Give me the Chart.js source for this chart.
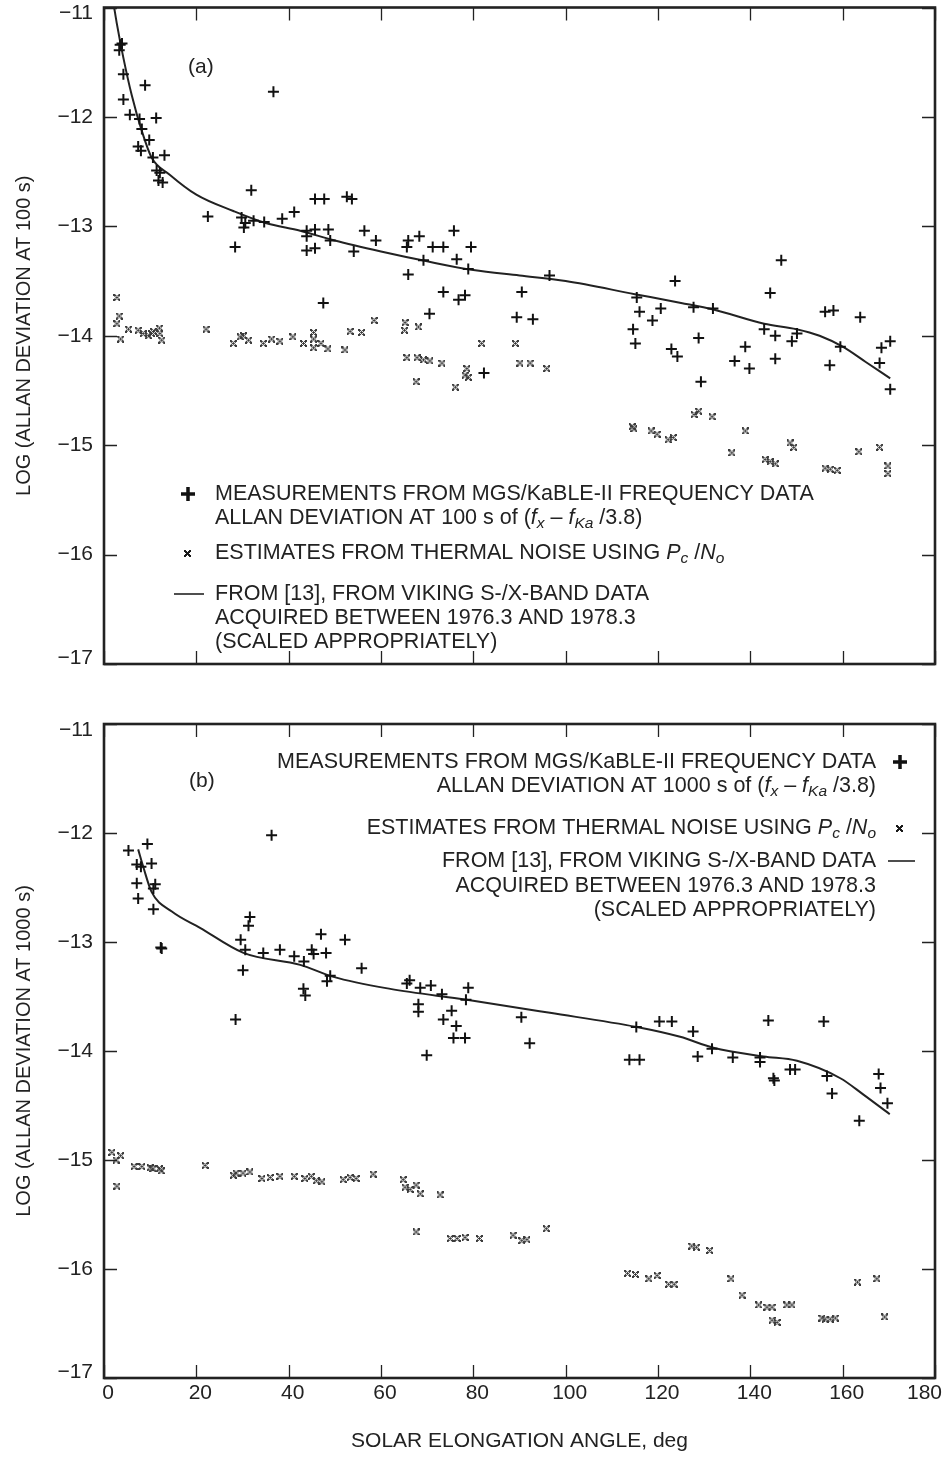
<!DOCTYPE html>
<html>
<head>
<meta charset="utf-8">
<script src="https://cdn.jsdelivr.net/npm/chart.js@4/dist/chart.umd.min.js"></script>
<style>
  html, body { margin: 0; padding: 0; background: #fff; }
  #wrap { position: relative; width: 943px; height: 1460px; }
  .panel { position: absolute; left: 0; width: 943px; }
  #panelA { top: 0; height: 700px; }
  #panelB { top: 700px; height: 760px; }
</style>
</head>
<body>
<div id="wrap">
  <div class="panel" id="panelA"><canvas id="chartA" width="943" height="700"></canvas></div>
  <div class="panel" id="panelB"><canvas id="chartB" width="943" height="760"></canvas></div>
</div>
<script>
// axis ticks (solar elongation angle, deg / log Allan deviation)
const angleTicks = [0, 20, 40, 60, 80, 100, 120, 140, 160, 180];
const logTicks = [-11, -12, -13, -14, -15, -16, -17];

// (a) 100 s: MGS/KaBLE-II measurements [deg, log]
const measA = [
  [3.5,-11.34],[3.3,-11.39],[3.9,-11.33],[4.2,-11.61],[8.9,-11.71],[4.2,-11.84],[5.6,-11.98],
  [7.7,-12.02],[11.3,-12.01],[8.2,-12.11],[9.8,-12.21],[7.4,-12.27],[8.0,-12.31],[10.6,-12.37],
  [13.1,-12.35],[11.4,-12.49],[12.1,-12.51],[11.8,-12.58],[12.7,-12.60],[36.7,-11.77],[31.9,-12.67],
  [22.5,-12.91],[28.4,-13.19],[29.8,-12.92],[30.6,-12.97],[30.3,-13.01],[32.4,-12.95],[34.7,-12.96],
  [38.6,-12.93],[41.2,-12.87],[45.7,-12.75],[47.7,-12.75],[52.6,-12.73],[53.7,-12.75],[43.9,-13.04],
  [45.7,-13.03],[43.9,-13.09],[43.9,-13.22],[45.7,-13.20],[48.6,-13.03],[49.0,-13.13],[54.1,-13.23],
  [56.4,-13.04],[58.9,-13.13],[47.5,-13.70],[65.9,-13.13],[65.6,-13.19],[68.3,-13.09],[71.2,-13.19],
  [73.5,-13.19],[75.8,-13.04],[79.5,-13.19],[69.2,-13.31],[76.4,-13.30],[78.9,-13.39],[65.9,-13.44],
  [73.5,-13.60],[78.2,-13.63],[76.8,-13.67],[70.5,-13.80],[90.5,-13.60],[89.4,-13.83],[92.9,-13.85],
  [96.5,-13.45],[82.3,-14.34],[115.4,-13.65],[116.0,-13.78],[120.6,-13.75],[118.8,-13.86],[114.6,-13.94],
  [115.1,-14.07],[123.7,-13.50],[122.9,-14.12],[124.2,-14.19],[146.7,-13.31],[144.3,-13.61],[127.7,-13.74],
  [131.9,-13.75],[128.8,-14.02],[143.0,-13.94],[145.4,-14.00],[149.0,-14.05],[150.1,-13.98],[138.9,-14.10],
  [136.6,-14.23],[139.8,-14.30],[145.4,-14.21],[129.3,-14.42],[156.2,-13.78],[158.0,-13.77],[163.8,-13.83],
  [159.5,-14.10],[157.2,-14.27],[168.4,-14.11],[170.3,-14.05],[168.0,-14.25],[170.3,-14.49]
];

// (a) 100 s: thermal noise estimates from Pc/No
const thermalA = [
  [2.8,-13.65],[3.3,-13.82],[2.8,-13.89],[3.6,-14.03],[5.3,-13.94],[7.4,-13.95],[8.5,-13.98],[9.6,-14.00],
  [10.3,-13.98],[10.7,-13.96],[12.0,-13.93],[12.1,-13.98],[12.5,-14.04],[22.1,-13.94],[28.0,-14.07],
  [29.5,-14.01],[30.2,-14.00],[31.3,-14.04],[34.5,-14.07],[36.3,-14.03],[38.1,-14.05],[40.9,-14.01],
  [43.2,-14.07],[45.4,-13.97],[45.4,-14.03],[45.4,-14.11],[47.0,-14.07],[48.5,-14.12],[52.2,-14.13],
  [53.3,-13.96],[55.8,-13.97],[58.5,-13.86],[65.2,-13.88],[65.1,-13.95],[68.1,-13.92],[65.6,-14.20],
  [67.8,-14.20],[69.2,-14.22],[70.6,-14.23],[73.2,-14.25],[67.6,-14.42],[81.8,-14.07],[89.1,-14.07],
  [78.6,-14.30],[78.2,-14.36],[78.9,-14.38],[76.1,-14.47],[90.1,-14.25],[92.3,-14.25],[95.9,-14.30],
  [114.4,-14.83],[114.8,-14.85],[118.5,-14.87],[119.8,-14.90],[122.2,-14.95],[123.3,-14.93],[127.8,-14.72],
  [128.8,-14.69],[131.7,-14.74],[138.9,-14.87],[136.0,-15.07],[143.2,-15.13],[145.4,-15.17],[144.3,-15.15],
  [148.6,-14.98],[149.4,-15.02],[156.2,-15.21],[157.3,-15.22],[158.8,-15.23],[163.5,-15.06],[168.0,-15.02],
  [169.8,-15.19],[169.8,-15.26]
];

// (a) Viking S-/X-band model, scaled
const vikingA = [
  [2.2,-11.00],[2.75,-11.14],[4.2,-11.46],[6.0,-11.80],[8.2,-12.13],[10.3,-12.37],[14.3,-12.53],
  [20.0,-12.71],[28.0,-12.86],[35.0,-12.97],[42.5,-13.04],[50.0,-13.13],[60.0,-13.23],[70.0,-13.32],
  [80.0,-13.40],[90.0,-13.45],[100.0,-13.50],[115.0,-13.62],[125.0,-13.70],[132.0,-13.76],[143.0,-13.89],
  [150.0,-13.94],[155.0,-14.00],[160.0,-14.10],[165.0,-14.24],[170.3,-14.39]
];

// (b) 1000 s: MGS/KaBLE-II measurements
const measB = [
  [5.3,-12.16],[9.4,-12.10],[7.1,-12.29],[8.0,-12.31],[10.3,-12.28],[7.1,-12.46],[11.1,-12.47],
  [10.7,-12.51],[7.4,-12.60],[10.7,-12.70],[12.3,-13.05],[12.5,-13.06],[36.3,-12.02],[31.6,-12.77],
  [31.3,-12.85],[29.6,-12.98],[30.6,-13.07],[30.1,-13.26],[28.5,-13.71],[34.5,-13.10],[38.1,-13.07],
  [41.2,-13.13],[43.3,-13.18],[45.0,-13.07],[45.4,-13.11],[48.1,-13.10],[47.0,-12.93],[52.2,-12.98],
  [49.0,-13.31],[48.3,-13.36],[43.2,-13.43],[43.6,-13.49],[55.8,-13.24],[65.6,-13.38],[66.2,-13.35],
  [68.5,-13.42],[70.8,-13.40],[73.2,-13.48],[78.9,-13.42],[78.4,-13.53],[68.1,-13.57],[68.1,-13.64],
  [75.3,-13.63],[73.5,-13.71],[76.3,-13.77],[75.7,-13.88],[78.2,-13.88],[69.9,-14.04],[90.4,-13.69],
  [92.2,-13.93],[115.3,-13.78],[120.3,-13.73],[123.0,-13.73],[113.8,-14.08],[116.0,-14.08],[127.6,-13.82],
  [128.6,-14.05],[131.7,-13.98],[136.2,-14.06],[142.1,-14.06],[142.1,-14.10],[143.9,-13.72],[145.0,-14.25],
  [145.2,-14.27],[148.6,-14.17],[149.7,-14.17],[155.9,-13.73],[156.6,-14.23],[157.7,-14.39],[163.6,-14.64],
  [167.8,-14.21],[168.2,-14.34],[169.7,-14.48]
];

// (b) 1000 s: thermal noise estimates
const thermalB = [
  [1.7,-14.93],[2.6,-15.00],[3.6,-14.96],[2.8,-15.24],[6.5,-15.06],[8.2,-15.06],[10.0,-15.07],[10.6,-15.08],
  [12.0,-15.08],[12.4,-15.10],[21.9,-15.05],[28.0,-15.14],[28.6,-15.12],[30.1,-15.12],[31.6,-15.11],
  [34.2,-15.17],[36.0,-15.16],[38.1,-15.15],[41.2,-15.15],[43.5,-15.17],[44.9,-15.15],[46.0,-15.19],
  [47.2,-15.20],[51.8,-15.18],[53.3,-15.16],[54.6,-15.17],[58.3,-15.13],[64.8,-15.18],[65.2,-15.25],
  [66.3,-15.27],[67.6,-15.23],[68.5,-15.31],[67.6,-15.66],[72.8,-15.32],[75.0,-15.72],[76.5,-15.72],
  [78.2,-15.71],[81.3,-15.72],[88.6,-15.69],[90.5,-15.74],[91.6,-15.73],[95.8,-15.63],[113.4,-16.04],
  [115.1,-16.05],[118.0,-16.09],[119.8,-16.06],[122.3,-16.14],[123.5,-16.14],[127.3,-15.79],[128.3,-15.80],
  [131.2,-15.83],[135.8,-16.09],[138.2,-16.24],[141.8,-16.33],[143.6,-16.35],[144.7,-16.35],[144.7,-16.47],
  [145.8,-16.49],[147.9,-16.33],[149.0,-16.33],[155.5,-16.45],[156.2,-16.46],[157.3,-16.46],[158.4,-16.45],
  [163.2,-16.12],[167.4,-16.09],[169.1,-16.44]
];

// (b) Viking model, scaled
const vikingB = [
  [7.4,-12.15],[8.5,-12.31],[10.3,-12.54],[14.7,-12.72],[20.8,-12.87],[30.2,-13.10],[42.5,-13.21],
  [49.7,-13.32],[62.0,-13.43],[78.6,-13.53],[96.6,-13.65],[115.4,-13.78],[124.8,-13.87],[132.0,-13.97],
  [142.9,-14.05],[150.1,-14.09],[159.5,-14.25],[164.5,-14.40],[170.2,-14.58]
];

const FONT = '"Liberation Sans", Arial, Helvetica, sans-serif';
const INK = '#222';
Chart.defaults.font.family = FONT;
Chart.defaults.color = INK;

// small blocky "x" sprites for the thermal-noise estimates
function sprite(rows, color) {
  const c = document.createElement('canvas');
  c.width = rows[0].length; c.height = rows.length;
  const g = c.getContext('2d');
  g.fillStyle = color;
  rows.forEach((r, y) => {
    for (let x = 0; x < r.length; x++) if (r[x] === '1') g.fillRect(x, y, 1, 1);
  });
  return c;
}
const dotX = sprite([
  '1100011',
  '1110111',
  '0101010',
  '0011100',
  '0101010',
  '1110111',
  '1100011'
], '#3c3c3c');
const keyX = sprite([
  '1100011',
  '1110111',
  '0111110',
  '0011100',
  '0111110',
  '1110111',
  '1100011'
], '#1a1a1a');

const toXY = arr => arr.map(p => ({ x: p[0], y: p[1] }));

// text with italic / subscript pieces
function drawRuns(ctx, runs, x, y, align) {
  const size = 21.5;
  let total = 0;
  const parts = runs.map(r => {
    if (typeof r === 'string') r = { t: r };
    const fs = r.sub ? 15.5 : size;
    const font = (r.it ? 'italic ' : '') + fs + 'px ' + FONT;
    ctx.font = font;
    const w = ctx.measureText(r.t).width;
    total += w;
    return { font, w, t: r.t, dy: r.sub ? 6 : 0 };
  });
  let cx = align === 'right' ? x - total : x;
  ctx.textAlign = 'left';
  ctx.textBaseline = 'middle';
  ctx.fillStyle = INK;
  parts.forEach(p => { ctx.font = p.font; ctx.fillText(p.t, cx, y + p.dy); cx += p.w; });
}

function bigPlus(ctx, x, y) {
  ctx.save();
  ctx.strokeStyle = '#111';
  ctx.lineWidth = 3.5;
  ctx.beginPath();
  ctx.moveTo(x - 7, y); ctx.lineTo(x + 7, y);
  ctx.moveTo(x, y - 7); ctx.lineTo(x, y + 7);
  ctx.stroke();
  ctx.restore();
}

function legendLines(seconds) {
  return {
    meas1: ['MEASUREMENTS FROM MGS/KaBLE-II FREQUENCY DATA'],
    meas2: ['ALLAN DEVIATION AT ' + seconds + ' s of (', { t: 'f', it: true }, { t: 'x', it: true, sub: true },
      ' \u2013 ', { t: 'f', it: true }, { t: 'Ka', it: true, sub: true }, ' /3.8)'],
    est: ['ESTIMATES FROM THERMAL NOISE USING ', { t: 'P', it: true }, { t: 'c', it: true, sub: true },
      ' /', { t: 'N', it: true }, { t: 'o', it: true, sub: true }],
    v1: ['FROM [13], FROM VIKING S-/X-BAND DATA'],
    v2: ['ACQUIRED BETWEEN 1976.3 AND 1978.3'],
    v3: ['(SCALED APPROPRIATELY)']
  };
}

// frame, inward tick marks, tick labels, panel tag and key
const framePlugin = {
  id: 'frame',
  afterDraw(chart, args, opts) {
    const { ctx, chartArea: a, scales } = chart;
    const W = chart.width;
    ctx.save();
    ctx.strokeStyle = INK;
    ctx.lineWidth = 1.3;
    ctx.beginPath();
    scales.x.ticks.forEach(t => {
      const px = Math.round(scales.x.getPixelForValue(t.value)) + 0.5;
      ctx.moveTo(px, a.bottom); ctx.lineTo(px, a.bottom - 13);
      ctx.moveTo(px, a.top); ctx.lineTo(px, a.top + 13);
    });
    scales.y.ticks.forEach(t => {
      const py = Math.round(scales.y.getPixelForValue(t.value)) + 0.5;
      ctx.moveTo(a.left, py); ctx.lineTo(a.left + 13, py);
      ctx.moveTo(a.right, py); ctx.lineTo(a.right - 13, py);
    });
    ctx.stroke();
    ctx.lineWidth = 2.6;
    ctx.strokeRect(a.left, a.top, a.right - a.left, a.bottom - a.top);

    // tick labels, end labels kept inside the panel
    ctx.fillStyle = INK;
    ctx.font = '21px ' + FONT;
    ctx.textAlign = 'right';
    ctx.textBaseline = 'middle';
    scales.y.ticks.forEach(t => {
      let py = scales.y.getPixelForValue(t.value);
      py = Math.min(Math.max(py, a.top + 6), a.bottom - 6);
      ctx.fillText('\u2212' + Math.abs(t.value), a.left - 11, py);
    });
    if (opts.xLabels) {
      ctx.textAlign = 'center';
      scales.x.ticks.forEach(t => {
        const label = String(t.value);
        const half = ctx.measureText(label).width / 2;
        let px = scales.x.getPixelForValue(t.value) + 4;
        px = Math.min(px, W - 1 - half);
        ctx.fillText(label, px, a.bottom + 15);
      });
    }

    ctx.textAlign = 'left';
    ctx.fillText(opts.tag, opts.tagX, opts.tagY);

    const L = legendLines(opts.seconds);
    const k = opts.key;
    const al = k.align;
    bigPlus(ctx, k.plusX, k.y1);
    drawRuns(ctx, L.meas1, k.textX, k.y1, al);
    drawRuns(ctx, L.meas2, k.textX, k.y2, al);
    ctx.drawImage(keyX, Math.round(k.dotX) - 3, Math.round(k.y3) - 3);
    drawRuns(ctx, L.est, k.textX, k.y3, al);
    ctx.strokeStyle = INK;
    ctx.lineWidth = 1.6;
    ctx.beginPath();
    ctx.moveTo(k.lineX0, k.y4); ctx.lineTo(k.lineX1, k.y4);
    ctx.stroke();
    drawRuns(ctx, L.v1, k.textX, k.y4, al);
    drawRuns(ctx, L.v2, k.textX, k.y5, al);
    drawRuns(ctx, L.v3, k.textX, k.y6, al);
    ctx.restore();
  }
};

function makePanel(canvasId, meas, thermal, viking, yTitle, opts) {
  return new Chart(document.getElementById(canvasId), {
    type: 'scatter',
    data: {
      datasets: [
        {
          label: 'Viking model',
          data: toXY(viking),
          showLine: true,
          cubicInterpolationMode: 'monotone',
          borderColor: INK,
          borderWidth: 2,
          pointRadius: 0,
          order: 3
        },
        {
          label: 'Thermal noise',
          data: toXY(thermal),
          pointStyle: dotX,
          pointRadius: 3.5,
          order: 2
        },
        {
          label: 'Measurements',
          data: toXY(meas),
          pointStyle: 'cross',
          pointRadius: 5.5,
          pointBorderWidth: 2,
          pointBorderColor: '#111',
          order: 1
        }
      ]
    },
    options: {
      responsive: false,
      animation: false,
      events: [],
      layout: { padding: { top: opts.padTop, right: 8, left: 0, bottom: 0 } },
      plugins: {
        legend: { display: false },
        tooltip: { enabled: false },
        frame: Object.assign({ xLabels: opts.xLabels }, opts.frame)
      },
      scales: {
        x: {
          type: 'linear',
          min: 0,
          max: 180,
          afterBuildTicks: s => { s.ticks = angleTicks.map(v => ({ value: v })); },
          afterFit: s => { s.height = opts.xHeight; s.paddingLeft = 0; s.paddingRight = 0; },
          grid: { display: false, drawTicks: false },
          border: { display: false },
          ticks: { display: false },
          title: {
            display: opts.xLabels,
            text: 'SOLAR ELONGATION ANGLE, deg',
            font: { size: 21 },
            color: INK,
            padding: { top: 0, bottom: 6 }
          }
        },
        y: {
          type: 'linear',
          min: -17,
          max: -11,
          afterBuildTicks: s => { s.ticks = logTicks.map(v => ({ value: v })); },
          afterFit: s => { s.width = 104; s.paddingTop = 0; s.paddingBottom = 0; },
          grid: { display: false, drawTicks: false },
          border: { display: false },
          ticks: { display: false },
          title: {
            display: true,
            text: yTitle,
            font: { size: 20 },
            color: INK,
            padding: { top: 12, bottom: 0 }
          }
        }
      }
    },
    plugins: [framePlugin]
  });
}

makePanel('chartA', measA, thermalA, vikingA, 'LOG (ALLAN DEVIATION AT 100 s)', {
  padTop: 6,
  xHeight: 36,
  xLabels: false,
  frame: {
    tag: '(a)', tagX: 188, tagY: 67, seconds: 100,
    key: { align: 'left', textX: 215, plusX: 188, dotX: 187, lineX0: 174, lineX1: 204,
           y1: 494, y2: 518, y3: 553, y4: 594, y5: 618, y6: 642 }
  }
});

makePanel('chartB', measB, thermalB, vikingB, 'LOG (ALLAN DEVIATION AT 1000 s)', {
  padTop: 24,
  xHeight: 82,
  xLabels: true,
  frame: {
    tag: '(b)', tagX: 189, tagY: 81, seconds: 1000,
    key: { align: 'right', textX: 876, plusX: 900, dotX: 899, lineX0: 888, lineX1: 915,
           y1: 62, y2: 86, y3: 128, y4: 161, y5: 186, y6: 210 }
  }
});
</script>
</body>
</html>
